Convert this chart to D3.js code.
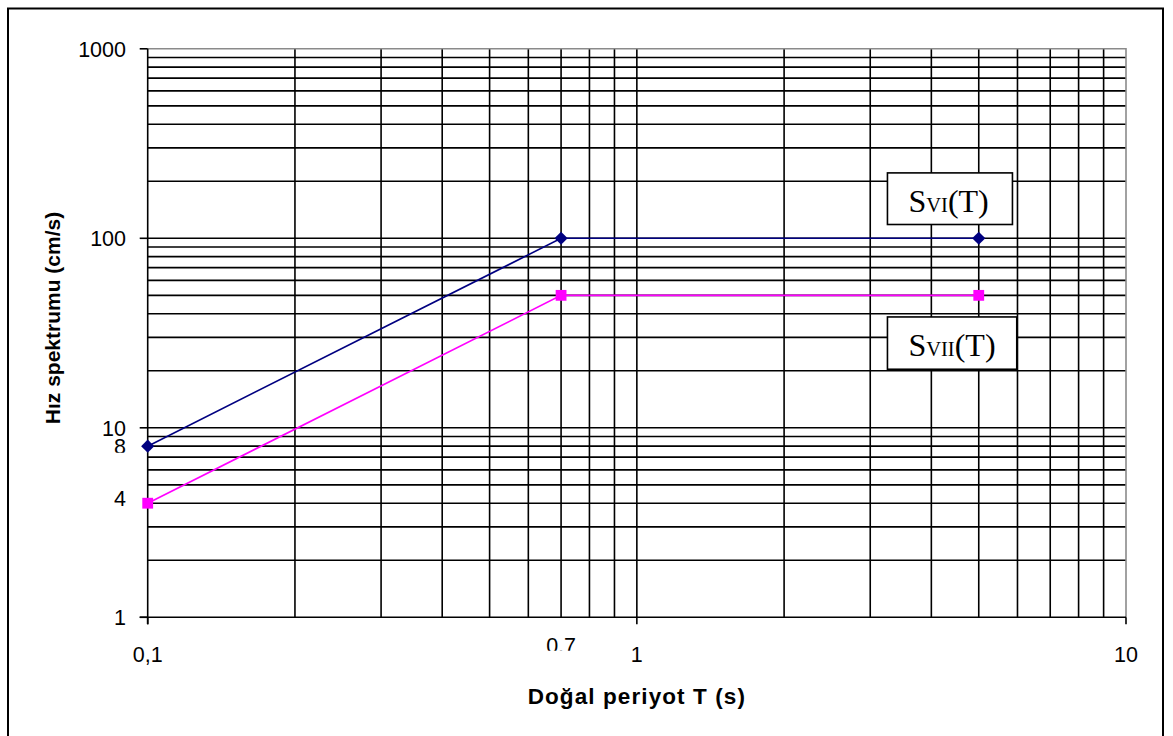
<!DOCTYPE html>
<html>
<head>
<meta charset="utf-8">
<script src="https://cdn.jsdelivr.net/npm/d3@7"></script>
<style>
  html, body { margin: 0; padding: 0; background: #ffffff; }
  svg { display: block; }
</style>
</head>
<body>
<svg id="chart" width="1173" height="736"></svg>
<script>
// Velocity spectrum values
const periods = [0.1, 0.7, 5];
const svI = [8, 100, 100];
const svII = [4, 50, 50];

// Axis ticks and labels
const xTickValues = [0.1, 0.7, 1, 10];
const xTickLabels = ["0,1", "0.7", "1", "10"];
const yTickValues = [1, 4, 8, 10, 100, 1000];
const yTickLabels = ["1", "4", "8", "10", "100", "1000"];
const xMajorTicks = [0.1, 1, 10];
const yMajorTicks = [1, 10, 100, 1000];

const seriesNames = ["VI", "VII"];
const seriesColors = ["#000080", "#ff00ff"];

const svg = d3.select("#chart");
const plot = { left: 147.7, right: 1126, top: 48.8, bottom: 617.3 };

const x = d3.scaleLog().domain([0.1, 10]).range([plot.left, plot.right]);
const y = d3.scaleLog().domain([1, 1000]).range([plot.bottom, plot.top]);

const sans = "'Liberation Sans', Arial, sans-serif";
const serif = "'Liberation Serif', 'Times New Roman', serif";

// Chart frame
svg.append("rect")
  .attr("x", 8).attr("y", 8.5).attr("width", 1155).attr("height", 740)
  .attr("fill", "#fff").attr("stroke", "#000").attr("stroke-width", 2);

// Gridlines: every integer multiple within each decade
const xGrid = [];
[0.1, 1].forEach(d => { for (let k = 2; k <= 10; k++) xGrid.push(+(k * d).toPrecision(3)); });
const yGrid = [];
[1, 10, 100].forEach(d => { for (let k = 2; k <= 10; k++) yGrid.push(k * d); });

const grid = svg.append("g").attr("stroke", "#000").attr("stroke-width", 1.6);
grid.selectAll("line.xg").data(xGrid.filter(v => v < 10)).join("line")
  .attr("x1", d => x(d)).attr("x2", d => x(d))
  .attr("y1", plot.top).attr("y2", plot.bottom);
grid.selectAll("line.yg").data(yGrid.filter(v => v < 1000)).join("line")
  .attr("x1", plot.left).attr("x2", plot.right)
  .attr("y1", d => y(d)).attr("y2", d => y(d));

// Plot area border (top and right)
svg.append("path")
  .attr("d", `M${plot.left},${plot.top}H${plot.right}V${plot.bottom}`)
  .attr("fill", "none").attr("stroke", "#8a8a8a").attr("stroke-width", 1.6);

// Axes
const axes = svg.append("g").attr("stroke", "#000").attr("stroke-width", 1.6);
axes.append("line").attr("x1", plot.left).attr("x2", plot.left)
  .attr("y1", plot.top).attr("y2", plot.bottom + 7);
axes.append("line").attr("x1", plot.left - 8).attr("x2", plot.right)
  .attr("y1", plot.bottom).attr("y2", plot.bottom);
axes.selectAll("line.yt").data(yMajorTicks).join("line")
  .attr("x1", plot.left - 8).attr("x2", plot.left)
  .attr("y1", d => y(d)).attr("y2", d => y(d));
axes.selectAll("line.xt").data(xMajorTicks).join("line")
  .attr("x1", d => x(d)).attr("x2", d => x(d))
  .attr("y1", plot.bottom).attr("y2", plot.bottom + 7);

// Clip regions for the tick labels that sit in tight text boxes
const defs = svg.append("defs");
defs.append("clipPath").attr("id", "clip8")
  .append("rect").attr("x", 90).attr("y", y(8) - 14).attr("width", 45).attr("height", 20.5);
defs.append("clipPath").attr("id", "clip07")
  .append("rect").attr("x", x(0.7) - 25).attr("y", plot.bottom + 14).attr("width", 50).attr("height", 19.5);

// Y tick labels
svg.append("g").selectAll("text").data(yTickValues).join("text")
  .attr("x", 126)
  .attr("y", d => y(d) + (d === 4 ? -4.5 : 0))
  .attr("dy", "0.36em")
  .attr("text-anchor", "end")
  .attr("font-family", sans).attr("font-size", 21.5).attr("fill", "#000")
  .attr("clip-path", d => d === 8 ? "url(#clip8)" : null)
  .text((d, i) => yTickLabels[i]);

// X tick labels
svg.append("g").selectAll("text").data(xTickValues).join("text")
  .attr("x", d => x(d))
  .attr("y", d => d === 0.7 ? plot.bottom + 36 : plot.bottom + 45)
  .attr("text-anchor", "middle")
  .attr("font-family", sans).attr("font-size", 21.5).attr("fill", "#000")
  .attr("clip-path", d => d === 0.7 ? "url(#clip07)" : null)
  .text((d, i) => xTickLabels[i]);

// Axis titles
svg.append("text")
  .attr("x", (plot.left + plot.right) / 2).attr("y", 703.5)
  .attr("text-anchor", "middle")
  .attr("font-family", sans).attr("font-weight", "bold").attr("font-size", 22.5)
  .attr("letter-spacing", 1.1)
  .text("Doğal periyot T (s)");
svg.append("text")
  .attr("transform", "translate(60,318) rotate(-90)")
  .attr("text-anchor", "middle")
  .attr("font-family", sans).attr("font-weight", "bold").attr("font-size", 21)
  .text("Hız spektrumu (cm/s)");

// Series lines and markers
const series = [svI, svII].map((vals, i) => ({
  name: seriesNames[i], color: seriesColors[i],
  points: vals.map((v, j) => ({ t: periods[j], v }))
}));
const line = d3.line().x(d => x(d.t)).y(d => y(d.v));

svg.append("g").selectAll("path").data(series).join("path")
  .attr("d", d => line(d.points))
  .attr("fill", "none").attr("stroke", d => d.color).attr("stroke-width", 1.6);

svg.append("g").selectAll("path").data(series[0].points).join("path")
  .attr("transform", d => `translate(${x(d.t)},${y(d.v)})`)
  .attr("d", d3.symbol(d3.symbolDiamond2, 110)())
  .attr("fill", series[0].color);

svg.append("g").selectAll("rect").data(series[1].points).join("rect")
  .attr("x", d => x(d.t) - 5.4).attr("y", d => y(d.v) - 5.4)
  .attr("width", 10.8).attr("height", 10.8)
  .attr("fill", series[1].color);

// Curve name boxes placed near the right end of each curve
const boxes = [
  { name: "VI", x0: x(5) - 91.3, y0: y(100) - 65.4, w: 125, h: 51.6 },
  { name: "VII", x0: x(5) - 91.3, y0: y(50) + 21.6, w: 129.3, h: 52.3 }
];
const boxG = svg.append("g").selectAll("g").data(boxes).join("g");
boxG.append("rect")
  .attr("x", d => d.x0).attr("y", d => d.y0)
  .attr("width", d => d.w).attr("height", d => d.h)
  .attr("fill", "#fff").attr("stroke", "#000").attr("stroke-width", 1.6);
const label = boxG.append("text")
  .attr("x", d => d.x0 + 21).attr("y", d => d.y0 + 39.5)
  .attr("font-family", serif).attr("font-size", 32).attr("fill", "#000");
label.append("tspan").text("S");
label.append("tspan").attr("font-size", 20.5).text(d => d.name);
label.append("tspan").text("(T)");
</script>
</body>
</html>
